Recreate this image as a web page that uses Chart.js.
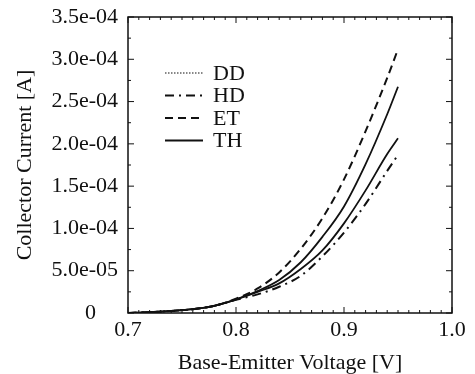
<!DOCTYPE html>
<html>
<head>
<meta charset="utf-8">
<script src="https://cdn.jsdelivr.net/npm/chart.js@4.4.1/dist/chart.umd.min.js"></script>
<style>
  html, body { margin: 0; padding: 0; background: #fff; }
  #wrap { width: 475px; height: 374px; }
</style>
</head>
<body>
<div id="wrap"><canvas id="ivChart" width="475" height="374"></canvas></div>
<script>
// base-emitter voltage [V]
let voltage = [0.70, 0.72, 0.74, 0.76, 0.78, 0.80, 0.82, 0.84, 0.86, 0.88, 0.90, 0.92, 0.94, 0.95];

// collector current [A]
let ddCurrent = [0, 1.0e-6, 2.5e-6, 4.5e-6, 8.5e-6, 1.6e-5, 2.5e-5, 3.5e-5, 5.2e-5, 7.4e-5, 1.06e-4, 1.45e-4, 1.88e-4, 2.065e-4];
let hdCurrent = [0, 1.0e-6, 2.5e-6, 4.5e-6, 8.5e-6, 1.55e-5, 2.2e-5, 3.1e-5, 4.4e-5, 6.7e-5, 9.5e-5, 1.29e-4, 1.68e-4, 1.87e-4];
let etCurrent = [0, 1.0e-6, 2.5e-6, 4.5e-6, 8.5e-6, 1.7e-5, 2.9e-5, 4.8e-5, 7.6e-5, 1.12e-4, 1.58e-4, 2.15e-4, 2.78e-4, 3.12e-4];
let thCurrent = [0, 1.0e-6, 2.5e-6, 4.5e-6, 8.5e-6, 1.6e-5, 2.6e-5, 3.9e-5, 6.0e-5, 9.0e-5, 1.26e-4, 1.76e-4, 2.35e-4, 2.675e-4];

let xTicks = [0.7, 0.8, 0.9, 1.0];
let yTicks = [0, 5e-5, 1e-4, 1.5e-4, 2e-4, 2.5e-4, 3e-4, 3.5e-4];

const FONT = 'Liberation Serif';
const INK = '#111';

function toPoints(ys) {
    return voltage.map((v, i) => ({ x: v, y: ys[i] }));
}

function yLabel(v) {
    if (Math.abs(v) < 1e-12) return '0    ';
    // 3.5e-4 -> 3.5e-04
    return v.toExponential(1).replace(/e([+-])(\d)$/, 'e$10$2');
}

// frame with inward ticks on all four sides
const frameTicks = {
    id: 'frameTicks',
    afterDraw(chart) {
        const ctx = chart.ctx;
        const a = chart.chartArea;
        const xs = chart.scales.x;
        const ys = chart.scales.y;
        ctx.save();
        ctx.strokeStyle = INK;
        ctx.lineWidth = 1.5;
        ctx.strokeRect(a.left, a.top, a.right - a.left, a.bottom - a.top);
        ctx.lineWidth = 1;
        ctx.beginPath();
        for (let i = 0; i <= 30; i++) {
            let v = 0.7 + i * 0.01;
            let px = xs.getPixelForValue(v);
            let len = (i % 10 === 0) ? 6 : 3;
            ctx.moveTo(px, a.bottom); ctx.lineTo(px, a.bottom - len);
            ctx.moveTo(px, a.top); ctx.lineTo(px, a.top + len);
        }
        for (let i = 0; i <= 14; i++) {
            let v = i * 2.5e-5;
            let py = ys.getPixelForValue(v);
            let len = (i % 2 === 0) ? 6 : 3;
            ctx.moveTo(a.left, py); ctx.lineTo(a.left + len, py);
            ctx.moveTo(a.right, py); ctx.lineTo(a.right - len, py);
        }
        ctx.stroke();
        ctx.restore();
    }
};

// legend inside the plot, top left
const innerLegend = {
    id: 'innerLegend',
    afterDraw(chart) {
        const ctx = chart.ctx;
        const a = chart.chartArea;
        let order = ['DD', 'HD', 'ET', 'TH'];
        ctx.save();
        ctx.font = '22px "' + FONT + '"';
        ctx.textBaseline = 'middle';
        ctx.fillStyle = INK;
        order.forEach((name, i) => {
            let ds = chart.data.datasets.find(d => d.label === name);
            let y = a.top + 56 + i * 22.5;
            ctx.strokeStyle = INK;
            ctx.lineWidth = name === 'DD' ? 1.2 : 2;
            ctx.setLineDash(ds.legendDash || ds.borderDash || []);
            ctx.beginPath();
            ctx.moveTo(a.left + 37, y);
            ctx.lineTo(a.left + 75, y);
            ctx.stroke();
            ctx.setLineDash([]);
            ctx.fillText(name, a.left + 85, y + 1);
        });
        ctx.restore();
    }
};

let ctx = document.getElementById('ivChart').getContext('2d');

let ivChart = new Chart(ctx, {
    type: 'line',
    data: {
        datasets: [
            {
                label: 'DD',
                data: toPoints(ddCurrent),
                borderColor: INK,
                borderWidth: 1.8,
                borderDash: [],
                legendDash: [1.5, 1.5]
            },
            {
                label: 'HD',
                data: toPoints(hdCurrent),
                borderColor: INK,
                borderWidth: 2,
                borderDash: [9, 5, 2, 5]
            },
            {
                label: 'ET',
                data: toPoints(etCurrent),
                borderColor: INK,
                borderWidth: 2,
                borderDash: [8, 5]
            },
            {
                label: 'TH',
                data: toPoints(thCurrent),
                borderColor: INK,
                borderWidth: 1.8
            }
        ]
    },
    options: {
        responsive: false,
        animation: false,
        cubicInterpolationMode: 'monotone',
        elements: { point: { radius: 0 } },
        layout: { padding: { left: 0, right: 23, top: 17, bottom: 0 } },
        plugins: {
            legend: { display: false },
            tooltip: { enabled: false }
        },
        scales: {
            x: {
                type: 'linear',
                min: 0.7,
                max: 1.0,
                afterFit(scale) {
                    scale.height = 61;
                    scale.paddingLeft = 0;
                    scale.paddingRight = 0;
                },
                afterBuildTicks(scale) { scale.ticks = xTicks.map(v => ({ value: v })); },
                grid: { display: false, drawTicks: false },
                border: { display: false },
                ticks: {
                    padding: 4,
                    color: INK,
                    font: { family: FONT, size: 22 },
                    maxRotation: 0,
                    callback: v => v.toFixed(1)
                },
                title: {
                    display: true,
                    text: 'Base-Emitter Voltage [V]',
                    color: INK,
                    font: { family: FONT, size: 22, lineHeight: 1.0 },
                    padding: { top: 2, bottom: 0 }
                }
            },
            y: {
                type: 'linear',
                min: 0,
                max: 3.5e-4,
                afterFit(scale) {
                    scale.width = 128;
                    scale.paddingTop = 0;
                    scale.paddingBottom = 0;
                },
                afterBuildTicks(scale) { scale.ticks = yTicks.map(v => ({ value: v })); },
                grid: { display: false, drawTicks: false },
                border: { display: false },
                ticks: {
                    padding: 10,
                    color: INK,
                    font: { family: FONT, size: 22 },
                    callback: v => yLabel(v)
                },
                title: {
                    display: true,
                    text: 'Collector Current [A]',
                    color: INK,
                    font: { family: FONT, size: 22 },
                    padding: { top: 12, bottom: 0 }
                }
            }
        }
    },
    plugins: [frameTicks, innerLegend]
});
</script>
</body>
</html>
